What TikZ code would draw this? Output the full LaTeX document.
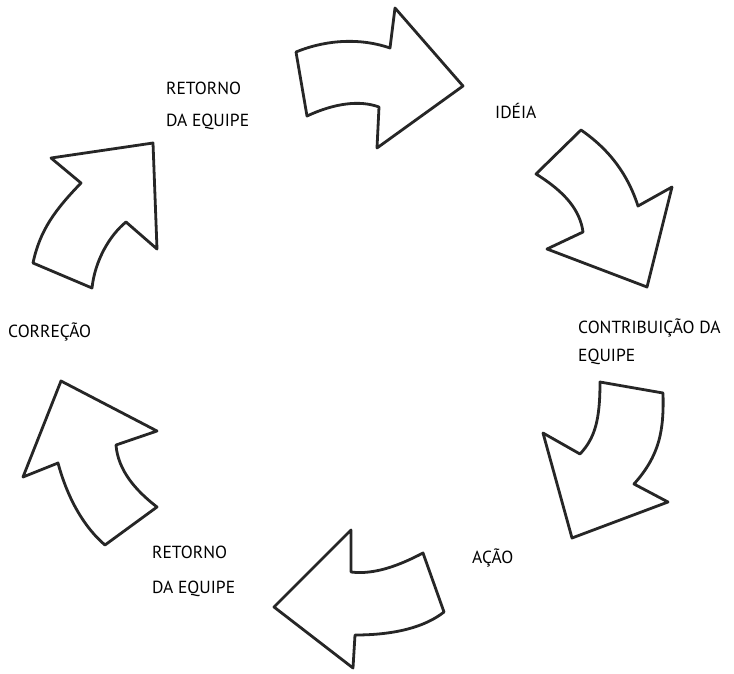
\documentclass[tikz,border=0pt]{standalone}
\usepackage{fontspec}
\setmainfont{PT Sans}
\usepackage{tikz}

\begin{document}
\begin{tikzpicture}[x=1pt, y=-1pt,
    seta/.style={draw=black!85, line width=2.8pt, line join=round, fill=white},
    rotulo/.style={anchor=base west, inner sep=0pt, align=left,
        font=\fontsize{17.5}{32}\selectfont}]

    \useasboundingbox (0,0) rectangle (734,673);

    % Top arrow, pointing right
    \draw[seta] (296,52) .. controls (320,42) and (355,36) .. (390,48)
        -- (395,8) -- (463,86) -- (377,148) -- (379,107)
        .. controls (360,100) and (335,103) .. (307,116) -- cycle;

    % Upper right arrow, pointing down
    \draw[seta] (581,130) -- (536,174)
        .. controls (565,192) and (580,210) .. (583,232)
        -- (547,249) -- (647,287) -- (672,187) -- (638,206)
        .. controls (628,175) and (610,150) .. (581,130) -- cycle;

    % Lower right arrow, pointing down and left
    \draw[seta] (600,382) -- (663,393)
        .. controls (664,430) and (660,455) .. (634,484)
        -- (668,502) -- (572,538) -- (543,433) -- (580,454)
        .. controls (595,438) and (600,420) .. (600,382) -- cycle;

    % Bottom arrow, pointing left
    \draw[seta] (351,530) -- (351,572)
        .. controls (375,575) and (400,565) .. (423,553)
        -- (444,612) .. controls (425,627) and (395,635) .. (355,635)
        -- (353,668) -- (274,607) -- cycle;

    % Lower left arrow, pointing up
    \draw[seta] (61,381) -- (157,431) -- (116,445)
        .. controls (118,470) and (135,490) .. (157,507)
        -- (105,545) .. controls (85,528) and (68,500) .. (58,463)
        -- (23,477) -- cycle;

    % Upper left arrow, pointing up and right
    \draw[seta] (51,158) -- (153,143) -- (157,249) -- (126,222)
        .. controls (110,235) and (95,260) .. (92,288)
        -- (33,263) .. controls (40,230) and (55,210) .. (81,183) -- cycle;

    % Labels (base is the last line)
    \node[rotulo] (retornoA) at (166,126) {RETORNO\\DA EQUIPE};
    \node[rotulo] (ideia) at (495,118) {IDÉIA};
    \node[rotulo, font=\fontsize{17.5}{28}\selectfont] (contribuicao)
        at (578,361) {CONTRIBUIÇÃO DA\\EQUIPE};
    \node[rotulo] (correcao) at (8,337) {CORREÇÃO};
    \node[rotulo, font=\fontsize{17.5}{35}\selectfont] (retornoB)
        at (152,593) {RETORNO\\DA EQUIPE};
    \node[rotulo] (acao) at (472,563) {AÇÃO};

\end{tikzpicture}
\end{document}
